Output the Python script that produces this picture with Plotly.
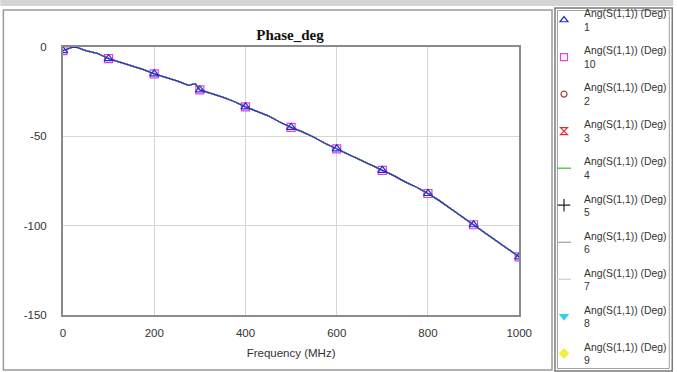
import plotly.graph_objects as go

# ---- data ----
freq = [0, 25, 50, 75, 100, 125, 150, 175, 200, 225, 250, 275, 290, 300, 325, 350, 375,
        400, 425, 450, 475, 500, 525, 550, 575, 600, 625, 650, 675, 700, 725, 750, 775,
        800, 825, 850, 875, 900, 925, 950, 975, 1000]
phase = [-2, 0.3, -2, -3.5, -6.5, -8.5, -10.5, -12.5, -15, -17, -19, -21.5, -20.5, -24,
         -26, -28, -30.5, -33.5, -36, -38.5, -42, -45, -47.5, -50.5, -54, -57, -60, -63,
         -66, -69, -72, -75.5, -78.5, -82, -86, -90.5, -95, -99.5, -104, -108, -112.5, -117.5]
mark_freq = [0, 100, 200, 300, 400, 500, 600, 700, 800, 900, 1000]
mark_phase = [-2, -6.5, -15, -24, -33.5, -45, -57, -69, -82, -99.5, -117.5]

series_names = ["1", "10", "2", "3", "4", "5", "6", "7", "8", "9"]
series_colors = ["#2a2ad0", "#e040e0", "#b04040", "#e03030", "#30c030", "#202020",
                 "#a0a0a0", "#d0d0d0", "#30d0f0", "#f0f040"]
series_symbols = ["triangle-up-open", "square-open", "circle-open", "hourglass-open",
                  "line-ew-open", "cross-thin-open", "line-ew-open", "line-ew-open",
                  "triangle-down", "diamond"]
legend_sizes = [7, 7, 6, 7, 10, 9, 10, 10, 7, 7]

x_ticks = [0, 200, 400, 600, 800, 1000]
y_ticks = [0, -50, -100, -150]
y_tick_text = ["0", "-50", "-100", "-150"]

fig = go.Figure()

# plot traces (drawn so that series 1 is on top)
draw_order = [1, 2, 3, 4, 5, 6, 7, 8, 9, 0]
for i in draw_order:
    fig.add_trace(go.Scatter(x=freq, y=phase, mode="lines",
                             line=dict(color=series_colors[i], width=1.3),
                             showlegend=False, hoverinfo="skip"))
    if i in (0, 1):
        fig.add_trace(go.Scatter(x=mark_freq, y=mark_phase, mode="markers",
                                 marker=dict(symbol=series_symbols[i], size=8,
                                             color=series_colors[i],
                                             line=dict(width=1.2, color=series_colors[i])),
                                 showlegend=False, hoverinfo="skip"))

# legend entries
for i, name in enumerate(series_names):
    fig.add_trace(go.Scatter(x=[None], y=[None], mode="markers",
                             name="Ang(S(1,1)) (Deg)<br>" + name,
                             legendgroup="g" + name,
                             marker=dict(symbol=series_symbols[i], size=legend_sizes[i],
                                         color=series_colors[i],
                                         line=dict(width=1.2, color=series_colors[i]))))

W, H = 677, 372
L, R, T, B = 63, 522, 47, 315


def px(x):
    return (x - L) / (R - L)


def py(y):
    return (B - y) / (B - T)


shapes = [
    dict(type="rect", xref="paper", yref="paper", x0=px(0), x1=px(677), y0=py(6), y1=py(0),
         fillcolor="#d4d4d4", line=dict(width=0), layer="below"),
    dict(type="rect", xref="paper", yref="paper", x0=px(3), x1=px(555), y0=py(370), y1=py(10),
         line=dict(color="#9a9a9a", width=1.5), layer="below"),
    dict(type="rect", xref="paper", yref="paper", x0=px(558), x1=px(676), y0=py(371), y1=py(8),
         line=dict(color="#7a7a7a", width=1.5), layer="below"),
    dict(type="rect", xref="paper", yref="paper", x0=px(560.5), x1=px(673), y0=py(368.5), y1=py(10.5),
         line=dict(color="#a0a0a0", width=1), layer="below"),
]

fig.update_layout(
    width=W, height=H,
    margin=dict(l=L, r=W - R, t=T, b=H - B),
    paper_bgcolor="white", plot_bgcolor="white",
    title=dict(text="<b>Phase_deg</b>", x=290 / W, xanchor="center", y=1 - 35 / H,
               yanchor="middle",
               font=dict(family="Liberation Serif", size=15, color="#111")),
    font=dict(family="Liberation Sans", size=11.5, color="#333"),
    xaxis=dict(range=[0, 1000], tickvals=x_ticks, showgrid=True, gridcolor="#d6d6d6",
               gridwidth=1, zeroline=False, showline=True, linecolor="#8a8a8a", linewidth=2,
               mirror=True, ticks="", ticklen=0, ticklabelstandoff=6,
               title=dict(text="Frequency (MHz)", standoff=11, font=dict(size=11.5))),
    yaxis=dict(range=[-150, 0], tickvals=y_ticks, ticktext=y_tick_text, showgrid=True,
               gridcolor="#d6d6d6", ticklabelstandoff=12,
               gridwidth=1, zeroline=False, showline=True, linecolor="#8a8a8a", linewidth=2,
               mirror=True, ticks="", ticklen=0),
    legend=dict(xref="container", yref="container", x=544 / W, xanchor="left",
                y=1, yanchor="top", maxheight=1000,
                font=dict(family="Liberation Sans", size=10.4, color="#333"),
                bgcolor="rgba(0,0,0,0)", borderwidth=0,
                traceorder="grouped", tracegroupgap=7, itemwidth=30),
    shapes=shapes,
)

fig.write_html("out.html", config={"displayModeBar": False},
               post_script="document.body.style.margin='0';document.body.style.overflow='hidden';")
